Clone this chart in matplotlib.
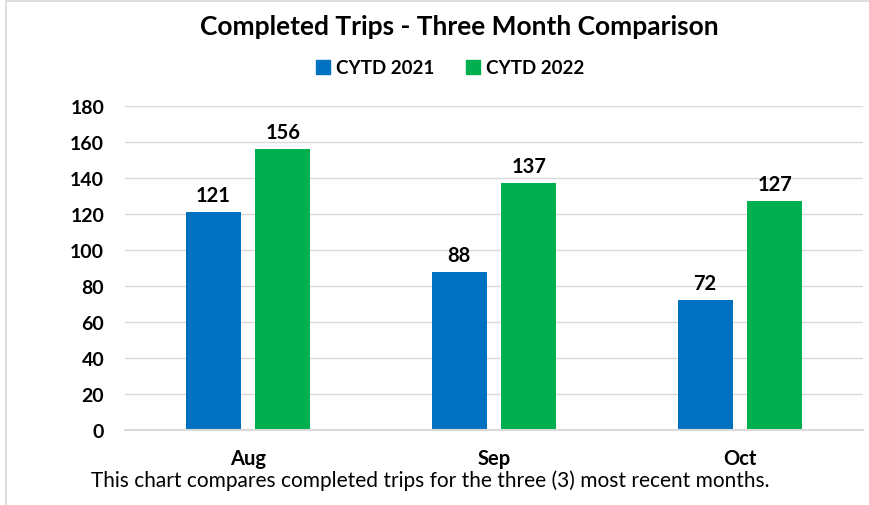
import numpy as np
import matplotlib
matplotlib.use('Agg')
import matplotlib.pyplot as plt
from matplotlib.patches import Rectangle
from matplotlib.lines import Line2D

plt.rcParams['font.family'] = ['Lato', 'DejaVu Sans']

months = ['Aug', 'Sep', 'Oct']
cytd_2021 = [121, 88, 72]
cytd_2022 = [156, 137, 127]
series_names = ['CYTD 2021', 'CYTD 2022']
yticks = [0, 20, 40, 60, 80, 100, 120, 140, 160, 180]

blue = '#0070C0'
green = '#00B050'
grid_col = '#D9D9D9'

fig = plt.figure(figsize=(8.7, 5.06), dpi=100)
W, H = 870, 506
ax = fig.add_axes([125 / W, (H - 431) / H, (863 - 125) / W, (431 - 107) / H])

x = np.arange(len(months))
bw = 0.2236
off = 0.142
b1 = ax.bar(x - off, cytd_2021, bw, color=blue)
b2 = ax.bar(x + off, cytd_2022, bw, color=green)

for bars in (b1, b2):
    for r in bars:
        ax.annotate(str(int(r.get_height())), (r.get_x() + r.get_width() / 2, r.get_height()),
                    xytext=(0, 5), textcoords='offset points', ha='center', va='bottom',
                    fontsize=14.5, fontweight='bold', color='black')

ax.set_xlim(-0.5, 2.5)
ax.set_ylim(0, 180)
ax.set_yticks(yticks)
ax.set_yticklabels([str(v) for v in yticks], fontsize=14, fontweight='bold')
ax.set_xticks(x)
ax.set_xticklabels(months, fontsize=14.5, fontweight='bold')
ax.tick_params(axis='both', length=0)
ax.tick_params(axis='y', pad=15)
ax.tick_params(axis='x', pad=13)
ax.yaxis.grid(True, color=grid_col, linewidth=1)
ax.set_axisbelow(True)
for s in ['top', 'right', 'left']:
    ax.spines[s].set_visible(False)
ax.spines['bottom'].set_color(grid_col)
ax.spines['bottom'].set_linewidth(1.5)

fig.text(459 / W, 1 - 27 / H, 'Completed Trips - Three Month Comparison', ha='center', va='center',
         fontsize=19, fontweight='bold')

handles = [Line2D([], [], marker='s', linestyle='none', markersize=10, color=blue),
           Line2D([], [], marker='s', linestyle='none', markersize=10, color=green)]
fig.legend(handles, series_names, loc='center', bbox_to_anchor=(449 / W, 1 - 69 / H), ncol=2,
           frameon=False, prop={'weight': 'bold', 'size': 13.5}, handletextpad=0.2,
           columnspacing=1.6, handlelength=1.0)

fig.text(430 / W, 1 - 481 / H, 'This chart compares completed trips for the three (3) most recent months.',
         ha='center', va='center', fontsize=15)

fig.add_artist(Rectangle((6 / W, -0.01), 1.0, 1 - 1.5 / H + 0.01, transform=fig.transFigure,
                         fill=False, edgecolor='#D9D9D9', linewidth=1.2))

fig.savefig('out.png', dpi=100)
